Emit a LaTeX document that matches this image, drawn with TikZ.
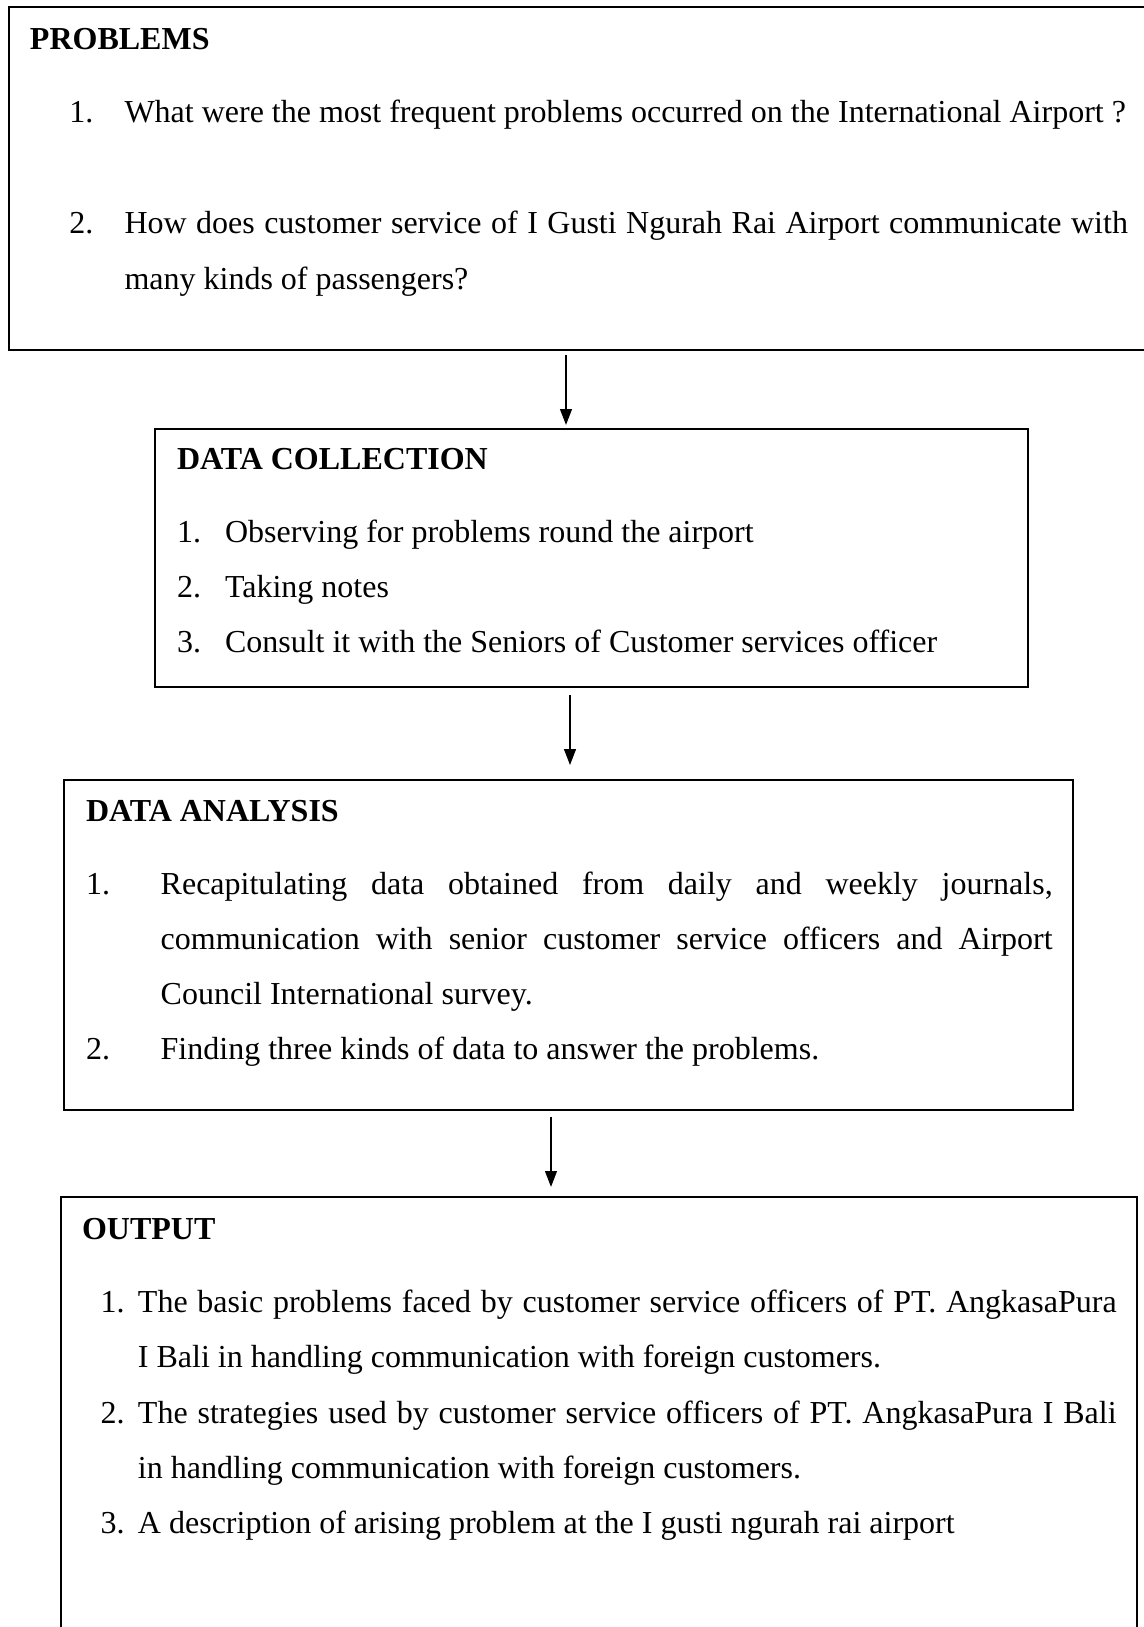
\documentclass[tikz,border=0pt]{standalone}
\usepackage{fontspec}
\setmainfont{Liberation Serif}
\usetikzlibrary{arrows.meta,fit}
\begin{document}
\begin{tikzpicture}[x=0.375pt,y=-0.375pt,
  box/.style={draw,line width=1.1pt,inner sep=0pt,outer sep=0pt},
  txt/.style={anchor=base west,inner sep=0pt,outer sep=0pt,font=\fontsize{12}{14}\selectfont},
  ttl/.style={txt,font=\fontsize{12}{14}\selectfont\bfseries},
  arr/.style={line width=0.75pt,-{Triangle[length=6pt,width=4.4pt]}}]
\useasboundingbox (0,0) rectangle (1144,1627);
\clip (0,0) rectangle (1144,1627);
% boxes
\node[box,fit={(9,7) (1152,350)}] (prob) {};
\node[box,fit={(155,429) (1028,687)}] (dc) {};
\node[box,fit={(64,780) (1073,1110)}] (da) {};
\node[box,fit={(61,1197) (1137,1640)}] (out) {};
% arrow columns
\coordinate (a1) at (566,0);
\coordinate (a2) at (570,0);
\coordinate (a3) at (551,0);
\draw[arr,shorten <=1.9pt,shorten >=1.5pt] (prob.south -| a1) -- (dc.north -| a1);
\draw[arr,shorten <=3pt,shorten >=5.6pt] (dc.south -| a2) -- (da.north -| a2);
\draw[arr,shorten <=2.6pt,shorten >=3.75pt] (da.south -| a3) -- (out.north -| a3);
% problems
\node[ttl] (pt) at (30,49.5) {PROBLEMS};
\node[txt] (p1n) at (69.5,122.5) {1.};
\node[txt] (p1) at (124.5,122.5) {What were the most frequent problems occurred on the International Airport ?};
\node[txt] (p2n) at (69.5,233.5) {2.};
\node[txt] (p2a) at (124.5,233.5) {\makebox[376.3pt][s]{How does customer service of I Gusti Ngurah Rai Airport communicate with}};
\node[txt] (p2b) at (124.5,289) {many kinds of passengers?};
% data collection
\node[ttl] (dct) at (177,469.5) {DATA COLLECTION};
\node[txt] (d1n) at (177,542.5) {1.};
\node[txt] (d1) at (225,542.5) {Observing for problems round the airport};
\node[txt] (d2n) at (177,597.5) {2.};
\node[txt] (d2) at (225,597.5) {Taking notes};
\node[txt] (d3n) at (177,652.5) {3.};
\node[txt] (d3) at (225,652.5) {Consult it with the Seniors of Customer services officer};
% data analysis
\node[ttl] (dat) at (86,821) {DATA ANALYSIS};
\node[txt] (a1n) at (86,894) {1.};
\node[txt] (a1a) at (160.7,894) {\makebox[334.5pt][s]{Recapitulating data obtained from daily and weekly journals,}};
\node[txt] (a1b) at (160.7,949) {\makebox[334.5pt][s]{communication with senior customer service officers and Airport}};
\node[txt] (a1c) at (160.7,1004) {Council International survey.};
\node[txt] (a2n) at (86,1059.5) {2.};
\node[txt] (a2) at (160.7,1059.5) {Finding three kinds of data to answer the problems.};
% output
\node[ttl] (ot) at (82,1239) {OUTPUT};
\node[txt] (o1n) at (100.6,1312) {1.};
\node[txt] (o1a) at (138,1312) {\makebox[367pt][s]{The basic problems faced by customer service officers of PT. AngkasaPura}};
\node[txt] (o1b) at (138,1367.5) {I Bali in handling communication with foreign customers.};
\node[txt] (o2n) at (100.6,1423) {2.};
\node[txt] (o2a) at (138,1423) {\makebox[367pt][s]{The strategies used by customer service officers of PT. AngkasaPura I Bali}};
\node[txt] (o2b) at (138,1478) {in handling communication with foreign customers.};
\node[txt] (o3n) at (100.6,1533) {3.};
\node[txt] (o3) at (138,1533) {A description of arising problem at the I gusti ngurah rai airport};
\end{tikzpicture}
\end{document}
